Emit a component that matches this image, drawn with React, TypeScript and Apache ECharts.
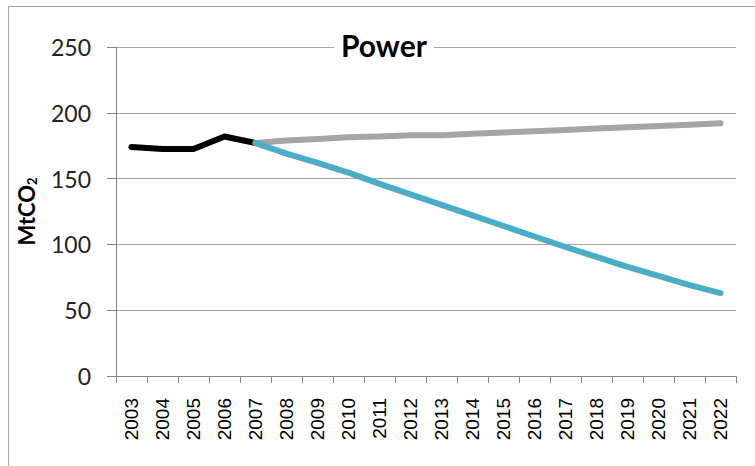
import React, { useEffect, useRef } from "react";
import * as echarts from "echarts";

const years = ["2003","2004","2005","2006","2007","2008","2009","2010","2011","2012","2013","2014","2015","2016","2017","2018","2019","2020","2021","2022"];
const historical = [174, 172.5, 172.5, 182, 177, null, null, null, null, null, null, null, null, null, null, null, null, null, null, null];
const baseline = [null, null, null, null, 177, 179, 180, 181.5, 182, 183, 183, 184, 185, 186, 187, 188, 189, 190, 191, 192];
const target = [null, null, null, null, 177, 169, 162, 154.5, 146, 138, 130, 122, 114, 106, 98, 90.5, 83, 76, 69, 63];
const yTicks = { min: 0, max: 250, interval: 50 };

export default function App() {
  const ref = useRef<HTMLDivElement>(null);
  useEffect(() => {
    if (!ref.current) return;
    const chart = echarts.init(ref.current, null, { renderer: "svg" });
    const lineSeries = (name: string, data: (number | null)[], color: string) => ({
      name,
      type: "line",
      data,
      symbol: "none",
      connectNulls: false,
      lineStyle: { color, width: 6, cap: "round", join: "round" },
      itemStyle: { color },
    });
    chart.setOption({
      animation: false,
      backgroundColor: "#ffffff",
      title: {
        text: "Power",
        left: 334,
        top: 28,
        padding: [2, 7, 2, 7],
        backgroundColor: "#ffffff",
        textStyle: { fontFamily: "Lato", fontWeight: "bold", fontSize: 30, color: "#000" },
      },
      graphic: [
        {
          type: "rect",
          shape: { x: 8.5, y: 6.5, width: 800, height: 500 },
          style: { fill: "none", stroke: "#a6a6a6", lineWidth: 1 },
          z: -1,
        },
      ],
      grid: { left: 116, right: 19, top: 47, bottom: 90, containLabel: false },
      xAxis: {
        type: "category",
        data: years,
        boundaryGap: true,
        axisLine: { show: true, lineStyle: { color: "#868686", width: 1 } },
        axisTick: { show: true, alignWithLabel: false, interval: 0, length: 7, lineStyle: { color: "#868686" } },
        axisLabel: {
          interval: 0,
          rotate: 90,
          margin: 22,
          fontFamily: "Liberation Sans",
          fontSize: 19,
          color: "#000",
        },
        splitLine: { show: false },
      },
      yAxis: {
        type: "value",
        min: yTicks.min,
        max: yTicks.max,
        interval: yTicks.interval,
        name: "MtCO{sub|2}",
        nameLocation: "middle",
        nameRotate: 90,
        nameGap: 78,
        nameTextStyle: {
          fontFamily: "Lato",
          fontWeight: "bold",
          fontSize: 22,
          color: "#000",
          rich: {
            sub: { fontFamily: "Lato", fontWeight: "bold", fontSize: 13, color: "#000", padding: [10, 0, 0, 0] },
          },
        },
        axisLine: { show: true, lineStyle: { color: "#868686", width: 1 } },
        axisTick: { show: true, length: 9, lineStyle: { color: "#868686" } },
        axisLabel: { margin: 25, fontFamily: "Lato", fontSize: 23, color: "#222" },
        splitLine: { show: true, lineStyle: { color: "#a6a6a6", width: 1 } },
      },
      series: [
        lineSeries("Historical", historical, "#000000"),
        lineSeries("Baseline", baseline, "#a5a5a5"),
        lineSeries("Target", target, "#4bacc6"),
      ],
    });
    return () => chart.dispose();
  }, []);
  return <div ref={ref} style={{ position: "absolute", left: 0, top: 0, width: 755, height: 466 }} />;
}
